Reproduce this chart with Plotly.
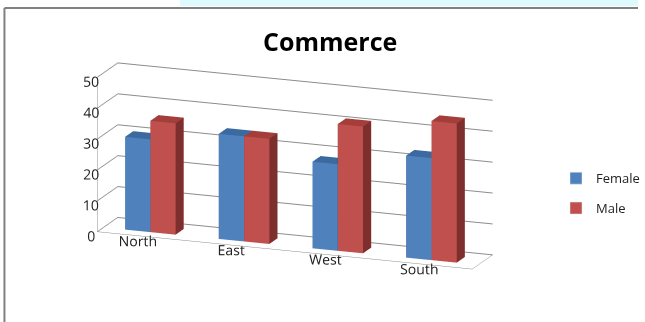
import plotly.graph_objects as go

# Data
regions = ["North", "East", "West", "South"]
female = [30, 34, 28, 33]
male = [36, 34, 41, 45]
value_ticks = [0, 10, 20, 30, 40, 50]

# Colours: front, top, side
FEMALE_COLS = ("#4F81BD", "#3C6AA0", "#2F5580")
MALE_COLS = ("#C0504D", "#A33E3B", "#7D2F2D")

BAR_W = 0.27      # width of one bar in category units
Y0, Y1 = 0.30, 0.70  # bar depth inside the floor
SCALE = 1.214     # overall size of the 3D box


def box_mesh(values, offset, cols, name):
    xs, ys, zs, ii, jj, kk, fc = [], [], [], [], [], [], []
    front, top, side = cols
    for c, v in enumerate(values):
        cx = c + 0.5
        x0 = cx + offset
        x1 = x0 + BAR_W
        base = len(xs)
        for (x, y, z) in [(x0, Y0, 0), (x1, Y0, 0), (x1, Y1, 0), (x0, Y1, 0),
                          (x0, Y0, v), (x1, Y0, v), (x1, Y1, v), (x0, Y1, v)]:
            xs.append(x); ys.append(y); zs.append(z)
        faces = [
            ((0, 1, 5), front), ((0, 5, 4), front),   # front
            ((4, 5, 6), top), ((4, 6, 7), top),       # top
            ((1, 2, 6), side), ((1, 6, 5), side),     # right
            ((0, 3, 7), side), ((0, 7, 4), side),     # left
            ((3, 2, 6), front), ((3, 6, 7), front),   # back
            ((0, 1, 2), front), ((0, 2, 3), front),   # bottom
        ]
        for (a, b, d), col in faces:
            ii.append(base + a); jj.append(base + b); kk.append(base + d)
            fc.append(col)
    return go.Mesh3d(
        x=xs, y=ys, z=zs, i=ii, j=jj, k=kk, facecolor=fc,
        flatshading=True, name=name, showlegend=False, hoverinfo="skip",
        lighting=dict(ambient=1.0, diffuse=0.0, specular=0.0, fresnel=0.0, roughness=1.0),
    )


fig = go.Figure()
fig.add_trace(box_mesh(female, -BAR_W, FEMALE_COLS, "Female"))
fig.add_trace(box_mesh(male, 0.0, MALE_COLS, "Male"))

# Legend entries
fig.add_trace(go.Bar(x=[None], y=[None], name="Female", marker_color=FEMALE_COLS[0],
                     legendgroup="f", xaxis="x", yaxis="y"))
fig.add_trace(go.Bar(x=[None], y=[None], name="Male", marker_color=MALE_COLS[0],
                     legendgroup="m", xaxis="x", yaxis="y"))

GRID = "#8C8C8C"
TICKFONT = dict(family="Open Sans", size=13, color="#222222")

fig.update_layout(
    width=645, height=322,
    margin=dict(l=0, r=0, t=0, b=0),
    paper_bgcolor="white",
    plot_bgcolor="rgba(0,0,0,0)",
    showlegend=True,
    title=dict(text="<b>Commerce</b>", x=0.512, xanchor="center", y=0.87, yanchor="middle",
               font=dict(family="Open Sans", size=25, color="black")),
    legend=dict(x=0.872, y=0.40, xanchor="left", yanchor="middle", traceorder="grouped",
                tracegroupgap=10, font=dict(family="Open Sans", size=13, color="#222222"),
                bgcolor="rgba(0,0,0,0)"),
    xaxis=dict(visible=False, domain=[0.9, 0.91]),
    yaxis=dict(visible=False, domain=[0.9, 0.91]),
    scene=dict(
        domain=dict(x=[0.062, 0.862], y=[0.074, 0.894]),
        aspectmode="manual",
        aspectratio=dict(x=2.50 * SCALE, y=0.36 * SCALE, z=1.0 * SCALE),
        camera=dict(
            eye=dict(x=0.617, y=-1.634, z=0.478),
            center=dict(x=0, y=0, z=0),
            up=dict(x=0, y=0, z=1),
            projection=dict(type="orthographic"),
        ),
        xaxis=dict(range=[0, 4], tickvals=[0.5, 1.5, 2.5, 3.5], ticktext=regions,
                   showgrid=False, showline=True, linecolor=GRID, zeroline=False,
                   showbackground=True, backgroundcolor="white", title=dict(text=""),
                   tickfont=TICKFONT, tickangle=0, showspikes=False),
        yaxis=dict(range=[0, 1], showticklabels=False, showgrid=False, showline=True,
                   linecolor=GRID, zeroline=False, showbackground=True,
                   backgroundcolor="white", title=dict(text=""), showspikes=False),
        zaxis=dict(range=[0, 50], tickvals=value_ticks, showgrid=True, gridcolor=GRID,
                   showline=True, linecolor=GRID, zeroline=False, showbackground=True,
                   backgroundcolor="white", title=dict(text=""), tickfont=TICKFONT,
                   tickangle=0, showspikes=False),
        bgcolor="white",
    ),
    shapes=[
        dict(type="rect", xref="paper", yref="paper", x0=182 / 645, x1=1.0,
             y0=1 - 6 / 322, y1=1.0, fillcolor="#DDFBFD", line_width=0, layer="below"),
        dict(type="line", xref="paper", yref="paper", x0=4.5 / 645, x1=1.0,
             y0=1 - 8 / 322, y1=1 - 8 / 322, line=dict(color="#808080", width=2)),
        dict(type="line", xref="paper", yref="paper", x0=4.5 / 645, x1=4.5 / 645,
             y0=0, y1=1 - 8 / 322, line=dict(color="#808080", width=2)),
    ],
)

fig.write_html("out.html")
